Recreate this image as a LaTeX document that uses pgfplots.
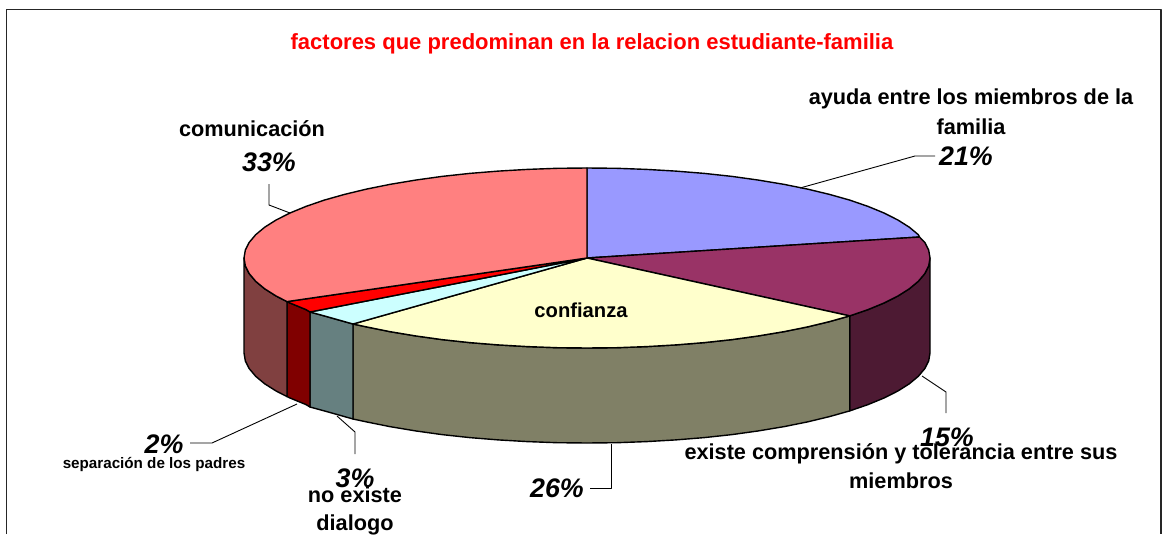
\documentclass[border=0pt]{standalone}
\usepackage{pgfplots}
\pgfplotsset{compat=1.18}
\usepackage{fontspec}
\setmainfont{Liberation Sans}
\definecolor{cAyuda}{HTML}{9999FF}
\definecolor{cComp}{HTML}{993366}
\definecolor{cConf}{HTML}{FFFFCC}
\definecolor{cNo}{HTML}{CCFFFF}
\definecolor{cSep}{HTML}{FF0000}
\definecolor{cCom}{HTML}{FF8080}
\definecolor{sComp}{HTML}{4D1A33}
\definecolor{sConf}{HTML}{808066}
\definecolor{sNo}{HTML}{668080}
\definecolor{sSep}{HTML}{800000}
\definecolor{sCom}{HTML}{804040}
\newcommand{\lab}{\bfseries\fontsize{21.7}{26}\selectfont}
\newcommand{\pct}{\bfseries\itshape\fontsize{26.8}{30}\selectfont}
\begin{document}
\begin{tikzpicture}
\begin{axis}[
  scale only axis, width=1169pt, height=535pt,
  xmin=0, xmax=1169, ymin=0, ymax=535, y dir=reverse,
  hide axis, clip=false,
  every axis plot/.append style={line join=round},
  wedge/.style={draw=black, line width=1.4pt},
  leader/.style={draw=black, line width=0.9pt},
]
% picture extent
\addplot[draw=none] coordinates {(0,0) (1169,535)};
% frame
\addplot[draw=black!85, line width=1.8pt] coordinates {(6.5,534) (6.5,9.5) (1161,9.5) (1161,534)};
% sides
\addplot[wedge, fill=sComp] coordinates {(930,258) (928.7,265.8) (924.8,273.6) (918.3,281.3) (909.3,288.8) (897.9,296) (884,303) (868,309.6) (849.7,315.9) (849.7,410.9) (868,404.6) (884,398) (897.9,391) (909.3,383.8) (918.3,376.3) (924.8,368.6) (928.7,360.8) (930,353)} --cycle;
\addplot[wedge, fill=sConf] coordinates {(849.7,315.9) (829.5,321.6) (807.5,326.9) (783.7,331.7) (758.5,335.9) (732,339.6) (704.3,342.6) (675.8,344.9) (646.6,346.6) (616.9,347.7) (587,348) (557.1,347.7) (527.4,346.6) (498.2,344.9) (469.7,342.6) (442,339.6) (415.5,335.9) (390.3,331.7) (366.5,326.9) (353,324) (353,419) (366.5,421.9) (390.3,426.7) (415.5,430.9) (442,434.6) (469.7,437.6) (498.2,439.9) (527.4,441.6) (557.1,442.7) (587,443) (616.9,442.7) (646.6,441.6) (675.8,439.9) (704.3,437.6) (732,434.6) (758.5,430.9) (783.7,426.7) (807.5,421.9) (829.5,416.6) (849.7,410.9)} --cycle;
\addplot[wedge, fill=sNo] coordinates {(353,324) (344.5,321.6) (324.3,315.9) (310,312) (310,407) (324.3,410.9) (344.5,416.6) (353,419)} --cycle;
\addplot[wedge, fill=sSep] coordinates {(310,312) (306,309.6) (290,303) (287,301.6) (287,396.6) (290,398) (306,404.6) (310,407)} --cycle;
\addplot[wedge, fill=sCom] coordinates {(287,301.6) (276.1,296) (264.7,288.8) (255.7,281.3) (249.2,273.6) (245.3,265.8) (244,258) (244,353) (245.3,360.8) (249.2,368.6) (255.7,376.3) (264.7,383.8) (276.1,391) (287,396.6)} --cycle;
% top wedges
\addplot[wedge, fill=cAyuda] coordinates {(587,258) (587,168) (616.9,168.3) (646.6,169.4) (675.8,171.1) (704.3,173.4) (732,176.4) (758.5,180.1) (783.7,184.3) (807.5,189.1) (829.5,194.4) (849.7,200.1) (868,206.4) (884,213) (897.9,220) (909.3,227.2) (918.3,234.7) (919.5,237)} --cycle;
\addplot[wedge, fill=cComp] coordinates {(587,258) (919.5,237) (924.8,242.4) (928.7,250.2) (930,258) (928.7,265.8) (924.8,273.6) (918.3,281.3) (909.3,288.8) (897.9,296) (884,303) (868,309.6) (849.7,315.9)} --cycle;
\addplot[wedge, fill=cConf] coordinates {(587,258) (849.7,315.9) (829.5,321.6) (807.5,326.9) (783.7,331.7) (758.5,335.9) (732,339.6) (704.3,342.6) (675.8,344.9) (646.6,346.6) (616.9,347.7) (587,348) (557.1,347.7) (527.4,346.6) (498.2,344.9) (469.7,342.6) (442,339.6) (415.5,335.9) (390.3,331.7) (366.5,326.9) (353,324)} --cycle;
\addplot[wedge, fill=cNo] coordinates {(587,258) (353,324) (344.5,321.6) (324.3,315.9) (310,312)} --cycle;
\addplot[wedge, fill=cSep] coordinates {(587,258) (310,312) (306,309.6) (290,303) (287,301.6)} --cycle;
\addplot[wedge, fill=cCom] coordinates {(587,258) (287,301.6) (276.1,296) (264.7,288.8) (255.7,281.3) (249.2,273.6) (245.3,265.8) (244,258) (245.3,250.2) (249.2,242.4) (255.7,234.7) (264.7,227.2) (276.1,220) (290,213) (306,206.4) (324.3,200.1) (344.5,194.4) (366.5,189.1) (390.3,184.3) (415.5,180.1) (442,176.4) (469.7,173.4) (498.2,171.1) (527.4,169.4) (557.1,168.3) (587,168)} --cycle;
% leaders
\addplot[leader] coordinates {(800,188) (915,156) (935,156)};
\addplot[leader] coordinates {(290,213) (269,205) (269,184)};
\addplot[leader] coordinates {(297,404) (212,443) (190,443)};
\addplot[leader] coordinates {(337,416) (355,432) (355,454)};
\addplot[leader] coordinates {(611,444) (611,488) (590,488)};
\addplot[leader] coordinates {(922,376) (946,392) (946,413)};
% text
\node[text=red, font=\bfseries\fontsize{22}{26}\selectfont] at (axis cs:592,43.5) {factores que predominan en la relacion estudiante-familia};
\node[font=\lab] at (axis cs:971,99) {ayuda entre los miembros de la};
\node[font=\lab] at (axis cs:971,127) {familia};
\node[font=\pct] at (axis cs:966,156) {21\%};
\node[font=\lab] at (axis cs:252,129) {comunicación};
\node[font=\pct] at (axis cs:269,162) {33\%};
\node[font=\bfseries\fontsize{20.2}{24}\selectfont] at (axis cs:581,310) {confianza};
\node[font=\pct] at (axis cs:947,437) {15\%};
\node[font=\lab] at (axis cs:901,454) {existe comprensión y tolerancia entre sus};
\node[font=\lab] at (axis cs:901,481) {miembros};
\node[font=\pct] at (axis cs:557,488) {26\%};
\node[font=\pct] at (axis cs:164,444) {2\%};
\node[font=\bfseries\fontsize{15.2}{18}\selectfont] at (axis cs:154,464) {separación de los padres};
\node[font=\pct] at (axis cs:355,478) {3\%};
\node[font=\lab] at (axis cs:355,495) {no existe};
\node[font=\lab] at (axis cs:355,525) {dialogo};
\end{axis}
\end{tikzpicture}
\end{document}
